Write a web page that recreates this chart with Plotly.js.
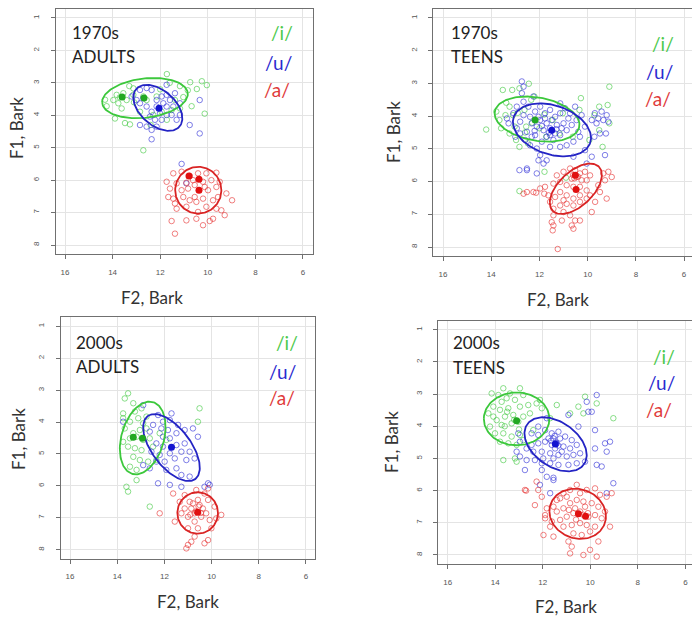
<!DOCTYPE html>
<html><head><meta charset="utf-8">
<script src="https://cdn.plot.ly/plotly-3.0.1.min.js"></script>
<style>html,body{margin:0;padding:0;background:#fff}#chart{width:692px;height:618px}</style>
</head><body><div id="chart"></div>
<script>
// ---------- DATA (F2 Bark, F1 Bark) ----------
const xTicks = [16,14,12,10,8,6];
const yTicks = [1,2,3,4,5,6,7,8];
const vowels = ['/i/','/u/','/a/'];

// 1970s ADULTS
const a70_i = [[11.72,2.73],[10.74,2.98],[10.25,2.95],[10.04,3.07],[10.46,3.19],[10.84,3.23],[11.03,3.44],[10.68,3.72],[10.13,3.95],[11.17,3.10],[12.71,5.08],[13.27,4.28],[13.90,4.10],[14.25,3.72],[14.32,3.52],[13.83,3.37],[13.55,3.32],[13.97,3.53],[13.76,3.63],[13.41,3.53],[13.62,3.79],[13.13,3.17],[13.13,3.37],[12.71,3.42],[12.57,3.53],[12.15,3.42],[11.72,4.14],[11.94,3.89],[11.52,3.84],[11.38,3.53],[11.17,3.79],[12.29,3.99],[12.85,3.89],[13.48,4.24],[11.6,3.0],[12.0,3.2],[13.3,3.1],[12.4,4.3],[13.7,3.45],[13.1,3.6]];
const a70_u = [[12.85,3.22],[12.57,3.16],[13.2,3.42],[12.99,3.53],[12.85,3.63],[12.57,3.73],[12.36,3.89],[12.15,3.53],[11.94,3.42],[11.73,3.37],[11.59,3.53],[11.45,3.73],[11.73,3.99],[11.94,4.14],[12.15,4.35],[12.36,4.45],[12.57,4.35],[12.85,4.3],[11.73,3.06],[11.17,3.63],[11.17,3.99],[10.34,3.53],[10.76,4.3],[10.34,4.56],[12.36,4.74],[12.22,4.14],[12.01,3.94],[11.73,3.73],[11.38,3.32],[12.36,3.22],[12.71,3.47],[12.15,3.73],[11.1,5.5],[10.9,6.1],[12.43,4.04],[11.87,3.63],[11.31,4.14],[11.52,3.99]];
const a70_a = [[11.45,5.79],[11.1,5.74],[10.76,5.87],[10.41,5.79],[10.06,5.79],[9.64,5.77],[11.31,6.1],[10.9,6.08],[10.62,6.0],[10.2,6.05],[9.85,6.0],[9.5,6.05],[11.59,6.26],[11.1,6.31],[10.83,6.26],[9.99,6.31],[9.64,6.21],[11.45,6.57],[11.03,6.52],[10.55,6.52],[10.2,6.57],[9.78,6.62],[9.57,6.52],[11.31,6.88],[10.9,6.82],[10.48,6.67],[10.06,6.82],[9.64,6.88],[9.22,6.41],[8.98,6.62],[9.43,6.93],[9.29,7.08],[9.78,7.19],[10.48,7.19],[11.52,7.26],[11.38,7.65],[10.2,7.39],[9.92,7.26],[10.9,7.24],[11.66,6.52],[11.73,6.05],[11.38,6.72],[10.41,6.98],[10.76,6.62],[10.13,6.21],[10.55,6.15]];
const a70_mean_i = [[13.6,3.44],[12.68,3.47]];
const a70_mean_u = [[12.05,3.78]];
const a70_mean_a = [[10.37,6.31],[10.37,5.97],[10.79,5.87]];

// 1970s TEENS
const t70_i = [[13.52,3.2],[13.13,3.2],[12.83,3.15],[12.44,3.01],[12.21,3.4],[13.24,3.71],[13.41,3.97],[13.66,4.12],[14.21,4.41],[13.59,4.37],[13.24,4.53],[12.97,4.73],[12.83,4.94],[12.48,4.83],[11.72,4.63],[11.17,4.53],[10.62,4.63],[10.34,3.81],[10.28,3.45],[9.72,3.97],[9.52,3.71],[9.1,3.1],[9.17,3.66],[9.1,4.22],[9.38,4.94],[9.52,4.43],[12.83,6.29],[11.79,5.7],[10.9,5.88],[11.03,3.91],[11.45,4.12],[12.34,3.5],[12.62,3.81],[13.1,3.97],[12.55,4.32],[12.0,4.37],[13.38,3.59],[9.93,4.73],[13.79,3.86],[13.03,4.32],[12.9,3.9],[12.3,4.2],[11.8,3.95],[12.6,4.5]];
const t70_u = [[12.73,2.94],[12.66,3.1],[12.73,3.3],[12.66,3.56],[12.25,3.4],[13.35,4.07],[13.28,4.22],[12.94,4.37],[12.8,4.53],[13.0,4.63],[12.59,4.73],[12.39,4.89],[12.11,4.99],[11.97,5.19],[11.83,5.45],[12.04,5.35],[12.52,5.6],[12.39,4.02],[12.18,3.86],[11.97,4.12],[11.77,3.91],[11.56,3.81],[11.35,4.02],[11.14,3.91],[10.94,3.76],[10.73,3.91],[10.52,3.71],[10.46,4.12],[10.66,4.27],[10.87,4.43],[11.14,4.58],[11.42,4.73],[11.7,4.63],[11.83,4.43],[12.11,4.32],[12.32,4.22],[11.28,4.27],[11.0,4.22],[11.56,4.37],[11.49,4.12],[11.7,4.22],[12.18,4.58],[10.32,4.63],[10.59,4.78],[10.87,4.89],[11.14,4.94],[11.56,4.94],[9.7,3.91],[9.56,4.07],[9.35,4.12],[9.21,3.97],[9.42,3.86],[9.14,4.17],[9.63,4.22],[9.83,4.12],[9.49,4.53],[10.11,5.04],[9.83,5.24],[9.28,5.19],[10.04,5.45],[10.59,5.24],[11.7,5.35],[12.52,5.65],[12.11,5.75],[12.94,3.71],[12.46,3.71],[11.97,3.71],[11.14,3.61],[13.08,3.91],[12.66,3.97],[12.8,4.17],[12.52,4.48],[12.32,4.63],[11.9,4.78],[11.35,4.53],[11.08,4.37],[10.8,4.07],[10.25,3.97],[10.11,4.32],[10.39,4.48],[11.56,4.58],[12.04,4.02],[11.77,4.07],[9.72,4.63],[9.24,4.53],[12.83,5.65],[11.9,4.3],[11.3,4.4],[12.2,4.45],[11.6,4.5]];
const t70_a = [[12.52,6.32],[12.25,6.32],[11.97,6.21],[11.77,6.16],[11.42,6.06],[11.28,5.81],[11.0,5.7],[10.73,5.6],[10.52,5.65],[10.32,5.75],[10.11,5.7],[9.9,5.81],[10.46,5.86],[10.66,5.91],[10.25,5.96],[10.04,5.96],[9.35,5.75],[9.14,5.7],[9.0,5.86],[9.28,5.96],[9.49,6.32],[9.21,6.52],[9.69,6.62],[9.56,6.11],[9.9,6.42],[10.04,6.27],[10.32,6.42],[10.59,6.52],[10.87,6.42],[11.14,6.32],[11.35,6.47],[11.56,6.62],[11.42,6.83],[11.14,6.73],[10.87,6.68],[10.59,6.73],[10.32,6.62],[10.04,6.52],[11.0,6.93],[10.73,7.03],[10.52,7.19],[10.32,7.19],[9.83,6.93],[11.42,7.03],[11.49,7.24],[11.42,7.34],[11.07,7.19],[10.66,7.34],[10.59,7.44],[11.45,7.49],[11.24,8.06],[11.63,6.42],[11.14,6.01],[10.87,6.11],[10.59,6.16],[10.32,6.16],[11.0,6.57],[11.8,6.37],[12.14,6.34],[12.66,6.37],[10.6,5.8],[10.4,5.85],[10.55,5.9]];
const t70_mean_i = [[12.18,4.12]];
const t70_mean_u = [[11.49,4.43]];
const t70_mean_a = [[10.48,6.24],[10.51,5.81]];

// 2000s ADULTS
const a00_i = [[13.54,3.1],[13.68,3.26],[13.32,3.41],[13.75,3.73],[13.25,3.67],[12.97,3.57],[13.46,3.99],[13.11,3.88],[12.76,3.83],[13.68,4.2],[13.32,4.35],[13.04,4.25],[12.76,4.2],[13.75,4.62],[13.46,4.51],[13.18,4.46],[12.9,4.56],[12.62,4.51],[13.54,4.77],[13.25,4.82],[12.97,4.88],[13.32,5.09],[13.04,5.19],[12.69,5.24],[13.46,5.4],[13.18,5.5],[13.61,6.03],[13.54,6.18],[13.18,5.82],[12.62,6.65],[10.51,3.57],[10.58,3.99],[11.92,4.56],[12.2,4.35],[12.48,4.77],[12.34,5.19],[13.75,3.88],[12.9,4.04]];
const a00_u = [[12.9,3.47],[13.75,3.99],[12.48,4.09],[12.13,4.2],[11.77,3.94],[11.42,4.09],[11.85,4.25],[12.06,4.46],[11.77,4.51],[11.49,4.35],[11.14,4.25],[10.79,4.2],[12.34,4.67],[12.06,4.77],[11.49,4.72],[11.14,4.67],[10.93,4.93],[11.28,4.93],[11.77,4.98],[12.2,5.03],[12.55,4.93],[12.34,5.24],[11.99,5.24],[11.56,5.14],[11.07,5.19],[10.72,5.14],[11.49,5.45],[11.92,5.5],[12.9,5.35],[12.62,5.45],[11.28,5.66],[10.93,5.71],[12.27,5.92],[11.77,5.97],[11.28,6.03],[10.3,6.03],[10.08,5.97],[12.62,4.3],[10.58,4.46],[12.27,3.78],[11.7,3.73],[12.06,3.99],[10.15,5.92]];
const a00_a = [[11.63,6.24],[11.14,6.29],[10.65,6.13],[10.3,6.24],[10.15,6.08],[11.35,6.5],[10.93,6.5],[10.58,6.44],[10.15,6.44],[9.87,6.65],[9.59,6.91],[12.2,6.86],[11.14,6.71],[10.86,6.71],[10.72,6.86],[10.37,6.71],[10.23,6.86],[10.44,6.97],[11.0,6.97],[11.28,6.86],[10.72,7.12],[10.08,7.07],[11.56,7.12],[11.0,7.33],[10.58,7.33],[10.72,7.59],[11.0,7.85],[10.86,7.75],[11.07,7.96],[10.3,7.8],[10.15,7.7],[10.01,7.33],[9.8,7.02],[10.51,6.6],[10.79,6.55],[10.65,6.8],[10.45,6.85],[10.9,6.9],[10.55,6.65]];
const a00_mean_i = [[13.32,4.48],[12.93,4.51]];
const a00_mean_u = [[11.7,4.79]];
const a00_mean_a = [[10.59,6.83]];

// 2000s TEENS
const t00_i = [[14.15,2.98],[13.66,2.82],[13.38,2.98],[12.96,2.82],[12.82,3.03],[13.17,3.18],[13.73,3.24],[14.08,3.39],[14.29,3.6],[13.8,3.49],[13.45,3.44],[12.96,3.39],[12.61,3.34],[12.26,3.29],[12.04,3.44],[13.59,3.7],[13.24,3.65],[12.82,3.7],[13.94,3.81],[14.22,4.01],[13.73,3.96],[13.31,3.91],[13.03,3.86],[14.01,4.22],[13.66,4.22],[13.31,4.32],[12.96,4.27],[13.8,4.48],[13.45,4.53],[13.1,4.58],[12.82,4.43],[13.66,5.05],[13.17,5.0],[13.1,5.1],[11.41,3.34],[10.5,3.39],[10.22,3.08],[9.73,3.29],[10.29,3.6],[9.03,3.75],[10.85,3.6],[11.69,3.75],[12.12,3.18],[12.54,3.6],[12.4,4.12],[14.08,3.7],[13.52,3.13],[13.87,3.03],[13.5,3.55],[13.2,3.8],[13.0,4.1],[13.6,4.0]];
const t00_u = [[9.73,3.03],[9.94,3.55],[10.92,3.65],[10.5,4.01],[9.8,4.12],[11.83,3.75],[12.19,4.01],[12.47,4.22],[12.19,4.27],[11.9,4.12],[11.62,4.22],[11.34,4.17],[11.06,4.32],[10.78,4.43],[10.57,4.58],[10.85,4.69],[11.13,4.63],[11.41,4.53],[11.62,4.58],[11.9,4.48],[12.19,4.53],[12.47,4.58],[12.68,4.69],[12.4,4.79],[12.04,4.79],[11.69,4.84],[11.34,4.89],[10.99,4.94],[10.71,4.89],[10.43,4.84],[10.22,5.1],[10.57,5.15],[10.92,5.2],[11.34,5.2],[11.69,5.15],[12.04,5.15],[12.33,5.05],[12.68,5.05],[12.96,4.94],[13.1,4.79],[12.96,4.48],[13.03,4.22],[11.55,4.38],[11.27,4.38],[11.76,4.38],[11.48,4.69],[11.2,4.79],[11.98,5.0],[11.55,5.0],[9.8,4.69],[9.38,4.53],[9.17,4.48],[9.31,4.79],[9.73,5.2],[9.52,5.25],[11.83,5.57],[11.55,5.67],[12.75,5.36],[12.04,5.36],[10.08,3.55],[10.15,3.24],[11.55,5.6],[12.12,5.82],[11.69,6.08],[9.03,5.77],[9.31,6.08],[11.45,4.5],[11.65,4.45],[11.35,4.6],[11.5,4.3]];
const t00_a = [[12.75,5.98],[12.26,5.72],[12.19,5.98],[12.04,6.19],[12.33,6.45],[11.83,6.55],[11.9,6.76],[11.55,6.5],[11.41,6.29],[11.13,6.08],[10.85,5.98],[10.57,5.82],[10.43,6.08],[10.15,5.98],[9.8,5.93],[9.59,6.13],[9.31,6.19],[9.1,6.08],[11.41,6.65],[11.13,6.55],[10.85,6.39],[10.57,6.29],[10.29,6.34],[9.94,6.39],[9.66,6.5],[9.38,6.65],[11.27,6.91],[10.99,6.81],[10.71,6.7],[10.43,6.65],[10.08,6.81],[9.8,6.76],[9.52,6.86],[11.13,7.12],[10.78,7.07],[10.43,7.01],[10.15,7.07],[9.8,7.12],[10.71,7.33],[10.36,7.38],[10.01,7.27],[10.92,7.58],[10.78,7.74],[10.85,7.95],[10.29,8.0],[10.01,7.84],[9.66,7.58],[9.73,8.05],[9.17,7.12],[11.97,7.38],[11.55,7.43],[11.69,7.12],[11.62,6.96],[11.9,6.86],[11.27,6.24],[10.99,6.19],[10.22,6.5],[10.64,6.55],[12.7,6.0],[10.3,6.75],[10.1,6.7],[10.6,6.9],[10.9,6.6]];
const t00_mean_i = [[13.1,3.83]];
const t00_mean_u = [[11.47,4.55]];
const t00_mean_a = [[10.5,6.72],[10.2,6.8]];

// Ellipse parameters per group: [centre F2, centre F1, half-width F2, half-height F1, correlation]
const ell_a70 = [[12.64,3.47,1.8,0.62,0.2],[12.1,3.77,1.03,0.71,-0.45],[10.4,6.31,0.97,0.72,0.0]];
const ell_t70 = [[12.1,4.09,1.76,0.69,-0.25],[11.48,4.42,1.62,0.81,-0.3],[10.49,6.22,1.08,0.77,0.55]];
const ell_a00 = [[12.92,4.5,0.97,1.14,0.3],[11.7,4.8,1.2,1.05,-0.6],[10.59,6.85,0.86,0.65,0.0]];
const ell_t00 = [[13.1,3.77,1.38,0.82,0.0],[11.46,4.56,1.31,0.84,-0.4],[10.53,6.72,1.19,0.78,-0.1]];

const panelDecade = ['1970s','1970s','2000s','2000s'];
const panelGroup  = ['ADULTS','TEENS','ADULTS','TEENS'];

// ---------- STYLE ----------
const ptColor  = ['rgba(60,200,60,0.6)','rgba(45,45,215,0.6)','rgba(230,45,45,0.6)'];
const lnColor  = ['#3cc83c','#2424c4','#d92424'];
const mnColor  = ['#22a822','#1414d0','#e01010'];
const lblColor = ['#4cc94c','#2a2ad0','#e03a3a'];
const W = 692, H = 618;

const panels = [
  {pts:[a70_i,a70_u,a70_a], means:[a70_mean_i,a70_mean_u,a70_mean_a], ell:ell_a70,
   dom:{x:[55.5,312.5], y:[8.9,254.1]}, xr:[16.4,5.6],
   f1:[17,128], f2:[152,297], lab:[70,33,57], leg:[[282,33],[278,62],[277,90]]},
  {pts:[t70_i,t70_u,t70_a], means:[t70_mean_i,t70_mean_u,t70_mean_a], ell:ell_t70,
   dom:{x:[433.4,692], y:[8.8,256.2]}, xr:[16.4,5.67],
   f1:[393,132], f2:[558,299], lab:[449,33,57], leg:[[663,43],[659,71],[658,98]]},
  {pts:[a00_i,a00_u,a00_a], means:[a00_mean_i,a00_mean_u,a00_mean_a], ell:ell_a00,
   dom:{x:[60.6,315.4], y:[317.4,558.6]}, xr:[16.4,5.6],
   f1:[18,439], f2:[188,601], lab:[74,342,366], leg:[[287,342],[282,371],[282,397]]},
  {pts:[t00_i,t00_u,t00_a], means:[t00_mean_i,t00_mean_u,t00_mean_a], ell:ell_t00,
   dom:{x:[438.2,692], y:[320.7,564.0]}, xr:[16.4,5.72],
   f1:[391,442], f2:[566,606], lab:[451,342,367], leg:[[664,356],[661,382],[659,409]]}
];

function ellipse(e){
  const [cx,cy,sx,sy,r]=e, xs=[], ys=[], n=140, q=Math.sqrt(1-r*r);
  for(let i=0;i<=n;i++){const t=2*Math.PI*i/n; xs.push(cx+sx*Math.cos(t)); ys.push(cy+sy*(r*Math.cos(t)+q*Math.sin(t)));}
  return [xs,ys];
}

const traces=[], layout={width:W,height:H,margin:{l:0,r:0,t:0,b:0},showlegend:false,
  paper_bgcolor:'#fff',plot_bgcolor:'#fff',annotations:[],font:{family:'Lato, "Open Sans", sans-serif'}};
const lab = {family:'Lato, "Open Sans", sans-serif'};

panels.forEach((p,k)=>{
  const n=k+1, xa='x'+(n===1?'':n), ya='y'+(n===1?'':n);
  const axBase={showline:true,mirror:true,linecolor:'#707070',linewidth:1,ticks:'outside',ticklen:4,
    tickcolor:'#707070',showgrid:true,gridcolor:'#e4e4e4',gridwidth:1,zeroline:false,
    tickfont:{family:'"Liberation Sans", Arial, sans-serif',size:8,color:'#555'},fixedrange:true};
  layout['xaxis'+(n===1?'':n)]=Object.assign({},axBase,{domain:[p.dom.x[0]/W,p.dom.x[1]/W],range:p.xr,
    tickvals:xTicks,ticktext:xTicks.map(String),anchor:ya,ticklabelstandoff:6});
  layout['yaxis'+(n===1?'':n)]=Object.assign({},axBase,{domain:[1-p.dom.y[1]/H,1-p.dom.y[0]/H],range:[8.28,0.72],
    tickvals:yTicks,ticktext:yTicks.map(String),anchor:xa,tickangle:-90,ticklabelstandoff:8});
  for(let v=0;v<3;v++){
    traces.push({type:'scatter',mode:'markers',xaxis:xa,yaxis:ya,x:p.pts[v].map(d=>d[0]),y:p.pts[v].map(d=>d[1]),
      marker:{symbol:'circle-open',size:5.5,color:ptColor[v],line:{width:1}},hoverinfo:'skip',name:vowels[v]});
  }
  for(let v=0;v<3;v++){
    const [ex,ey]=ellipse(p.ell[v]);
    traces.push({type:'scatter',mode:'lines',xaxis:xa,yaxis:ya,x:ex,y:ey,line:{color:lnColor[v],width:1.8},hoverinfo:'skip'});
  }
  for(let v=0;v<3;v++){
    traces.push({type:'scatter',mode:'markers',xaxis:xa,yaxis:ya,x:p.means[v].map(d=>d[0]),y:p.means[v].map(d=>d[1]),
      marker:{symbol:'circle',size:7,color:mnColor[v]},hoverinfo:'skip'});
  }
  const A=layout.annotations;
  A.push({xref:'paper',yref:'paper',x:p.f1[0]/W,y:1-p.f1[1]/H,text:'F1, Bark',textangle:-90,showarrow:false,
    xanchor:'center',yanchor:'middle',font:Object.assign({size:17,color:'#333'},lab)});
  A.push({xref:'paper',yref:'paper',x:p.f2[0]/W,y:1-p.f2[1]/H,text:'F2, Bark',showarrow:false,
    xanchor:'center',yanchor:'middle',font:Object.assign({size:17,color:'#333'},lab)});
  A.push({xref:'paper',yref:'paper',x:p.lab[0]/W,y:1-p.lab[1]/H,text:panelDecade[k],showarrow:false,
    xanchor:'left',yanchor:'middle',font:Object.assign({size:17,color:'#222'},lab)});
  A.push({xref:'paper',yref:'paper',x:p.lab[0]/W,y:1-p.lab[2]/H,text:panelGroup[k],showarrow:false,
    xanchor:'left',yanchor:'middle',font:Object.assign({size:17,color:'#222'},lab)});
  for(let v=0;v<3;v++){
    A.push({xref:'paper',yref:'paper',x:p.leg[v][0]/W,y:1-p.leg[v][1]/H,text:vowels[v],showarrow:false,
      xanchor:'center',yanchor:'middle',font:Object.assign({size:19,color:lblColor[v]},lab)});
  }
});

Plotly.newPlot('chart',traces,layout,{staticPlot:true,displayModeBar:false});
</script></body></html>
